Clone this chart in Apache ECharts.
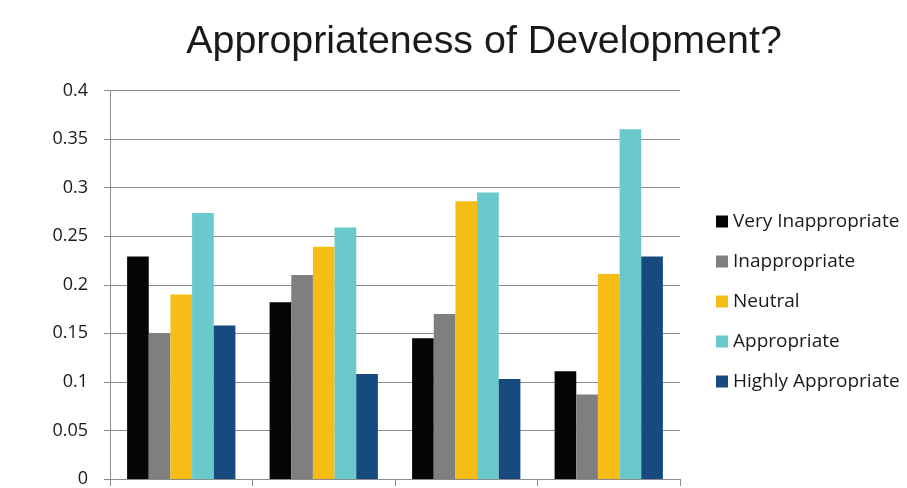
<!DOCTYPE html>
<html>
<head>
<meta charset="utf-8">
<script src="https://cdn.jsdelivr.net/npm/echarts@6/dist/echarts.min.js"></script>
<style>
  html, body { margin: 0; padding: 0; background: #ffffff; }
  #chart { width: 907px; height: 488px; }
</style>
</head>
<body>
<div id="chart"></div>
<script>
// Share of responses per group, by rating
const categories = ['1', '2', '3', '4'];
const veryInappropriate = [0.229, 0.182, 0.145, 0.111];
const inappropriate = [0.150, 0.210, 0.170, 0.087];
const neutral = [0.190, 0.239, 0.286, 0.211];
const appropriate = [0.274, 0.259, 0.295, 0.360];
const highlyAppropriate = [0.158, 0.108, 0.103, 0.229];
const seriesNames = ['Very Inappropriate', 'Inappropriate', 'Neutral', 'Appropriate', 'Highly Appropriate'];
const seriesColors = ['#050505', '#7f7f7f', '#f6bd17', '#69c9cc', '#174a7e'];
const seriesValues = [veryInappropriate, inappropriate, neutral, appropriate, highlyAppropriate];

const axisGray = '#8c8c8c';
const labelFont = '"Open Sans", Lato, sans-serif';

const chart = echarts.init(document.getElementById('chart'), null, { renderer: 'canvas' });
chart.setOption({
  animation: false,
  backgroundColor: '#ffffff',
  title: {
    text: 'Appropriateness of Development?',
    left: 479,
    top: 18,
    textAlign: 'center',
    textStyle: {
      fontFamily: '"Liberation Sans", Arial, sans-serif',
      fontSize: 39.4,
      fontWeight: 'normal',
      color: '#1a1a1a'
    }
  },
  legend: {
    orient: 'vertical',
    left: 711,
    top: 207,
    itemWidth: 12,
    itemHeight: 12,
    itemGap: 21,
    icon: 'rect',
    data: seriesNames,
    textStyle: { fontFamily: labelFont, fontSize: 19, color: '#1a1a1a', padding: [0, 0, 0, 0] }
  },
  grid: { left: 110, right: 227, top: 90.5, bottom: 7, containLabel: false },
  xAxis: {
    type: 'category',
    data: categories,
    boundaryGap: true,
    axisLine: { show: true, lineStyle: { color: axisGray, width: 1 } },
    axisTick: { show: true, length: 7, lineStyle: { color: axisGray } },
    axisLabel: { show: false }
  },
  yAxis: {
    type: 'value',
    min: 0,
    max: 0.4,
    interval: 0.05,
    axisLine: { show: true, lineStyle: { color: axisGray, width: 1 } },
    axisTick: { show: true, length: 6, lineStyle: { color: axisGray } },
    splitLine: { show: true, lineStyle: { color: axisGray, width: 1 } },
    axisLabel: {
      margin: 22,
      fontFamily: labelFont,
      fontSize: 18,
      color: '#1a1a1a',
      formatter: function (v) { return String(parseFloat(v.toFixed(2))); }
    }
  },
  series: seriesNames.map(function (name, i) {
    return {
      name: name,
      type: 'bar',
      data: seriesValues[i],
      barGap: '0%',
      barCategoryGap: '24%',
      itemStyle: { color: seriesColors[i] }
    };
  })
});
</script>
</body>
</html>
